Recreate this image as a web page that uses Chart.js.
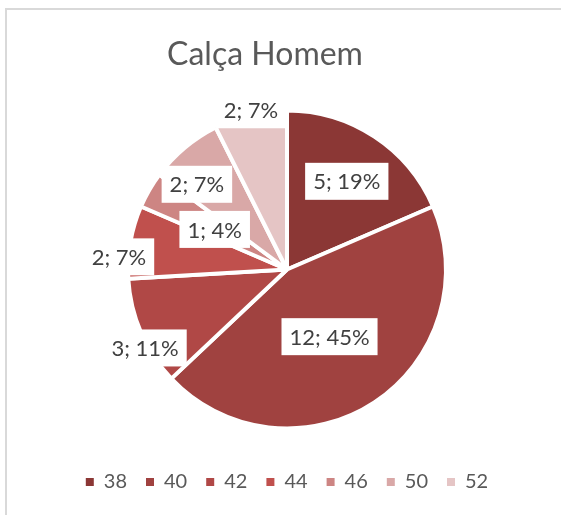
<!DOCTYPE html>
<html>
<head>
<meta charset="utf-8">
<script src="https://cdn.jsdelivr.net/npm/chart.js@4.4.0/dist/chart.umd.min.js"></script>
<style>
    html, body { margin: 0; padding: 0; background: #fff; overflow: hidden; }
    body { width: 561px; height: 515px; position: relative; }
    .frame { position: absolute; left: 5px; top: 8px; width: 600px; height: 600px; border: 2px solid #d9d9d9; box-sizing: border-box; }
    .holder { position: absolute; left: 8px; top: 0; width: 558px; height: 515px; }
</style>
</head>
<body>
<div class="frame"></div>
<div class="holder"><canvas id="PieChart"></canvas></div>
<script>
// sizes and how many of each
const sizes = ['38', '40', '42', '44', '46', '50', '52'];
const counts = [5, 12, 3, 2, 1, 2, 2];
const percents = [19, 45, 11, 7, 4, 7, 7];
const chartTitle = 'Calça Homem';

const sliceColors = ['#8b3735', '#a04240', '#b04846', '#c0504d', '#cd8583', '#d9a8a7', '#e5c5c5'];

// where each label sits: share of the radius, and a small turn in degrees
const labelDist = [0.67, 0.5, 1.02, 1.06, 0.52, 0.78, 1.03];
const labelTurn = [0.8, 1, -5.6, -5.7, -1, -6.6, 0.6];

const sliceLabels = {
    id: 'sliceLabels',
    afterDatasetsDraw(chart) {
        const ctx = chart.ctx;
        const arcs = chart.getDatasetMeta(0).data;
        ctx.save();
        ctx.font = '22px Lato';
        ctx.textAlign = 'center';
        ctx.textBaseline = 'middle';
        arcs.forEach((arc, i) => {
            const p = arc.getProps(['x', 'y', 'startAngle', 'endAngle', 'outerRadius']);
            const a = (p.startAngle + p.endAngle) / 2 + labelTurn[i] * Math.PI / 180;
            const d = p.outerRadius * labelDist[i];
            const x = p.x + Math.cos(a) * d;
            const y = p.y + Math.sin(a) * d;
            const text = counts[i] + '; ' + percents[i] + '%';
            const w = ctx.measureText(text).width + 16;
            const h = 37;
            ctx.fillStyle = '#ffffff';
            ctx.fillRect(x - w / 2, y - h / 2, w, h);
            ctx.fillStyle = '#404040';
            ctx.fillText(text, x, y + 1);
        });
        ctx.restore();
    }
};

// title sits a bit left of the pie, like in the sheet
const leftTitle = {
    id: 'leftTitle',
    afterDraw(chart) {
        const ctx = chart.ctx;
        ctx.save();
        ctx.font = '32px Lato';
        ctx.fillStyle = '#595959';
        ctx.textAlign = 'center';
        ctx.textBaseline = 'alphabetic';
        ctx.fillText(chartTitle, chart.width / 2 - 22, 65);
        ctx.restore();
    }
};

const ctx = document.getElementById('PieChart');

new Chart(ctx, {
    type: 'pie',
    data: {
        labels: sizes,
        datasets: [{
            data: counts,
            backgroundColor: sliceColors,
            borderColor: '#ffffff',
            borderWidth: 4
        }]
    },
    options: {
        responsive: true,
        maintainAspectRatio: false,
        animation: false,
        radius: 159,
        layout: {
            padding: { top: 86, bottom: 13 }
        },
        plugins: {
            title: { display: false },
            legend: {
                position: 'bottom',
                labels: {
                    color: '#595959',
                    font: { family: 'Lato', size: 20 },
                    boxWidth: 8,
                    boxHeight: 8,
                    padding: 19,
                    generateLabels(chart) {
                        const items = Chart.overrides.pie.plugins.legend.labels.generateLabels(chart);
                        items.forEach((it) => {
                            it.lineWidth = 0;
                            it.strokeStyle = 'rgba(0,0,0,0)';
                        });
                        return items;
                    }
                }
            },
            tooltip: { enabled: false }
        }
    },
    plugins: [sliceLabels, leftTitle]
});
</script>
</body>
</html>
